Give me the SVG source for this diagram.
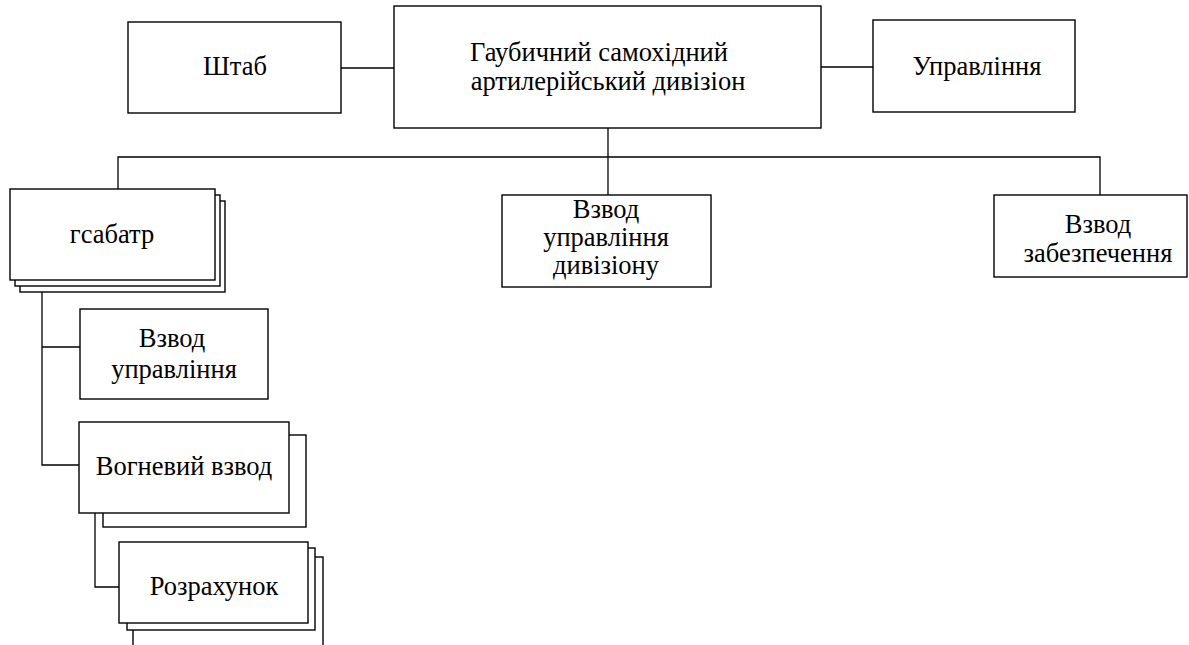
<svg xmlns="http://www.w3.org/2000/svg" width="1189" height="645" viewBox="0 0 1189 645">
<style>
  .box { fill: #fff; stroke: #000; stroke-width: 1.4; }
  .ln { fill: none; stroke: #000; stroke-width: 1.3; }
  text { font-family: "Liberation Serif", "Times New Roman", serif; font-size: 26.5px; fill: #000; text-anchor: middle; }
</style>
<rect width="1189" height="645" fill="#fff"/>
<g id="connectors">
  <line class="ln" x1="341" y1="68" x2="394" y2="68"/>
  <line class="ln" x1="821" y1="67" x2="873" y2="67"/>
  <line class="ln" x1="608" y1="128" x2="608" y2="195"/>
  <polyline class="ln" points="118,189 118,157 1100,157 1100,195"/>
  <polyline class="ln" points="42,292 42,465 79,465"/>
  <line class="ln" x1="42" y1="347" x2="80" y2="347"/>
  <polyline class="ln" points="95,513 95,587 119,587"/>
</g>
<g id="shtab">
  <rect class="box" x="128" y="22" width="213" height="91"/>
  <text x="235" y="75">Штаб</text>
</g>
<g id="dyvizion">
  <rect class="box" x="394" y="6" width="427" height="122"/>
  <text x="599" y="61">Гаубичний самохідний</text>
  <text x="608" y="90">артилерійський дивізіон</text>
</g>
<g id="upravlinnia">
  <rect class="box" x="873" y="20" width="202" height="92"/>
  <text x="977" y="75">Управління</text>
</g>
<g id="gsabatr">
  <rect class="box" x="20" y="201" width="205" height="91"/>
  <rect class="box" x="15" y="195" width="205" height="91"/>
  <rect class="box" x="10" y="189" width="205" height="91"/>
  <text x="112" y="243">гсабатр</text>
</g>
<g id="vzvod-upr-dyv">
  <rect class="box" x="502" y="195" width="209" height="92"/>
  <text x="606" y="218">Взвод</text>
  <text x="606" y="246">управління</text>
  <text x="606" y="274">дивізіону</text>
</g>
<g id="vzvod-zabezp">
  <rect class="box" x="994" y="195" width="193" height="82"/>
  <text x="1098" y="233">Взвод</text>
  <text x="1098" y="262">забезпечення</text>
</g>
<g id="vzvod-upr">
  <rect class="box" x="80" y="309" width="188" height="90"/>
  <text x="172" y="347">Взвод</text>
  <text x="174" y="378">управління</text>
</g>
<g id="vognevyi">
  <rect class="box" x="103" y="435" width="203" height="92"/>
  <rect class="box" x="79" y="422" width="210" height="91"/>
  <text x="184" y="475">Вогневий взвод</text>
</g>
<g id="rozrakhunok">
  <rect class="box" x="133" y="557" width="190" height="95"/>
  <rect class="box" x="127" y="548" width="188" height="82"/>
  <rect class="box" x="119" y="542" width="189" height="81"/>
  <text x="214" y="595">Розрахунок</text>
</g>
</svg>
